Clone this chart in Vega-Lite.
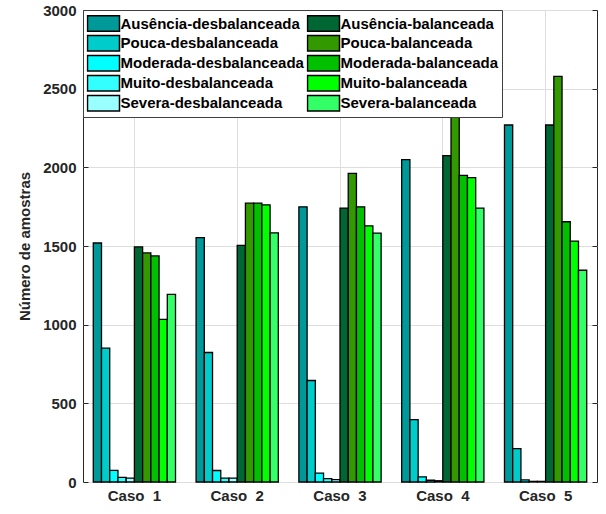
{
  "$schema": "https://vega.github.io/schema/vega-lite/v6.json",
  "autosize": "none",
  "width": 514,
  "height": 472,
  "padding": {"left": 83, "top": 10, "right": 9, "bottom": 32},
  "background": "white",
  "config": {
    "font": "Liberation Sans",
    "view": {"stroke": "#262626", "strokeWidth": 1}
  },
  "data": {
    "values": [
      {"caso": "Caso 1", "serie": "Ausência-desbalanceada", "valor": 1519},
      {"caso": "Caso 1", "serie": "Pouca-desbalanceada", "valor": 851},
      {"caso": "Caso 1", "serie": "Moderada-desbalanceada", "valor": 74},
      {"caso": "Caso 1", "serie": "Muito-desbalanceada", "valor": 30},
      {"caso": "Caso 1", "serie": "Severa-desbalanceada", "valor": 25},
      {"caso": "Caso 1", "serie": "Ausência-balanceada", "valor": 1494},
      {"caso": "Caso 1", "serie": "Pouca-balanceada", "valor": 1456},
      {"caso": "Caso 1", "serie": "Moderada-balanceada", "valor": 1437},
      {"caso": "Caso 1", "serie": "Muito-balanceada", "valor": 1034},
      {"caso": "Caso 1", "serie": "Severa-balanceada", "valor": 1192},
      {"caso": "Caso 2", "serie": "Ausência-desbalanceada", "valor": 1553},
      {"caso": "Caso 2", "serie": "Pouca-desbalanceada", "valor": 823},
      {"caso": "Caso 2", "serie": "Moderada-desbalanceada", "valor": 73},
      {"caso": "Caso 2", "serie": "Muito-desbalanceada", "valor": 25},
      {"caso": "Caso 2", "serie": "Severa-desbalanceada", "valor": 25},
      {"caso": "Caso 2", "serie": "Ausência-balanceada", "valor": 1504},
      {"caso": "Caso 2", "serie": "Pouca-balanceada", "valor": 1772},
      {"caso": "Caso 2", "serie": "Moderada-balanceada", "valor": 1772},
      {"caso": "Caso 2", "serie": "Muito-balanceada", "valor": 1762},
      {"caso": "Caso 2", "serie": "Severa-balanceada", "valor": 1584},
      {"caso": "Caso 3", "serie": "Ausência-desbalanceada", "valor": 1749},
      {"caso": "Caso 3", "serie": "Pouca-desbalanceada", "valor": 645},
      {"caso": "Caso 3", "serie": "Moderada-desbalanceada", "valor": 57},
      {"caso": "Caso 3", "serie": "Muito-desbalanceada", "valor": 21},
      {"caso": "Caso 3", "serie": "Severa-desbalanceada", "valor": 15},
      {"caso": "Caso 3", "serie": "Ausência-balanceada", "valor": 1741},
      {"caso": "Caso 3", "serie": "Pouca-balanceada", "valor": 1962},
      {"caso": "Caso 3", "serie": "Moderada-balanceada", "valor": 1749},
      {"caso": "Caso 3", "serie": "Muito-balanceada", "valor": 1628},
      {"caso": "Caso 3", "serie": "Severa-balanceada", "valor": 1582},
      {"caso": "Caso 4", "serie": "Ausência-desbalanceada", "valor": 2049},
      {"caso": "Caso 4", "serie": "Pouca-desbalanceada", "valor": 397},
      {"caso": "Caso 4", "serie": "Moderada-desbalanceada", "valor": 32},
      {"caso": "Caso 4", "serie": "Muito-desbalanceada", "valor": 11},
      {"caso": "Caso 4", "serie": "Severa-desbalanceada", "valor": 8},
      {"caso": "Caso 4", "serie": "Ausência-balanceada", "valor": 2074},
      {"caso": "Caso 4", "serie": "Pouca-balanceada", "valor": 2340},
      {"caso": "Caso 4", "serie": "Moderada-balanceada", "valor": 1949},
      {"caso": "Caso 4", "serie": "Muito-balanceada", "valor": 1934},
      {"caso": "Caso 4", "serie": "Severa-balanceada", "valor": 1741},
      {"caso": "Caso 5", "serie": "Ausência-desbalanceada", "valor": 2269},
      {"caso": "Caso 5", "serie": "Pouca-desbalanceada", "valor": 212},
      {"caso": "Caso 5", "serie": "Moderada-desbalanceada", "valor": 13},
      {"caso": "Caso 5", "serie": "Muito-desbalanceada", "valor": 4},
      {"caso": "Caso 5", "serie": "Severa-desbalanceada", "valor": 4},
      {"caso": "Caso 5", "serie": "Ausência-balanceada", "valor": 2269},
      {"caso": "Caso 5", "serie": "Pouca-balanceada", "valor": 2578},
      {"caso": "Caso 5", "serie": "Moderada-balanceada", "valor": 1654},
      {"caso": "Caso 5", "serie": "Muito-balanceada", "valor": 1531},
      {"caso": "Caso 5", "serie": "Severa-balanceada", "valor": 1346}
    ]
  },
  "encoding": {
    "x": {
      "field": "caso",
      "type": "nominal",
      "scale": {"paddingInner": 0.2, "paddingOuter": 0.1},
      "axis": {
        "title": null,
        "labelAngle": 0,
        "labelFontSize": 15,
        "labelFontWeight": "bold",
        "labelColor": "#262626",
        "labelPadding": 6,
        "labelExpr": "replace(datum.label, ' ', '\u00a0\u00a0')",
        "bandPosition": 0.5,
        "grid": true,
        "gridColor": "#dedede",
        "gridWidth": 1,
        "domain": false,
        "tickSize": 0
      }
    },
    "xOffset": {
      "field": "serie",
      "type": "nominal",
      "scale": {
        "domain": [
          "Ausência-desbalanceada", "Pouca-desbalanceada", "Moderada-desbalanceada", "Muito-desbalanceada", "Severa-desbalanceada",
          "Ausência-balanceada", "Pouca-balanceada", "Moderada-balanceada", "Muito-balanceada", "Severa-balanceada"
        ],
        "paddingInner": 0,
        "paddingOuter": 0
      }
    },
    "color": {
      "field": "serie",
      "type": "nominal",
      "scale": {
        "domain": [
          "Ausência-desbalanceada", "Pouca-desbalanceada", "Moderada-desbalanceada", "Muito-desbalanceada", "Severa-desbalanceada",
          "Ausência-balanceada", "Pouca-balanceada", "Moderada-balanceada", "Muito-balanceada", "Severa-balanceada"
        ],
        "range": [
          "#009999", "#00CCCC", "#00FFFF", "#33FFFF", "#99FFFF",
          "#006633", "#339900", "#00C000", "#00FF00", "#33FF66"
        ]
      },
      "legend": {
        "title": null,
        "orient": "top-left",
        "offset": 0,
        "columns": 2,
        "padding": 3.5,
        "rowPadding": 0,
        "clipHeight": 19.5,
        "columnPadding": 2,
        "fillColor": "white",
        "strokeColor": "#404040",
        "symbolType": "M-1,-0.484H1V0.484H-1Z",
        "symbolSize": 1024,
        "symbolStrokeColor": "black",
        "symbolStrokeWidth": 1.5,
        "symbolOpacity": 1,
        "labelFontSize": 15,
        "labelFontWeight": "bold",
        "labelColor": "black",
        "labelOffset": 0,
        "labelLimit": 300
      }
    }
  },
  "layer": [
    {
      "mark": {"type": "bar", "stroke": "black", "strokeWidth": 1.3},
      "encoding": {
        "y": {
          "field": "valor",
          "type": "quantitative",
          "scale": {"domain": [0, 3000], "nice": false},
          "axis": {
            "title": "Número de amostras",
            "titleFontSize": 15,
            "titleFontWeight": "bold",
            "titleColor": "#262626",
            "titlePadding": 10,
            "values": [0, 500, 1000, 1500, 2000, 2500, 3000],
            "format": "d",
            "labelFontSize": 15,
            "labelFontWeight": "bold",
            "labelColor": "#262626",
            "labelPadding": 12,
            "tickSize": -5,
            "tickColor": "#262626",
            "domain": false,
            "gridColor": "#dedede",
            "gridWidth": 1
          }
        }
      }
    },
    {
      "mark": {"type": "bar", "opacity": 0, "strokeOpacity": 0},
      "encoding": {
        "y": {
          "field": "valor",
          "type": "quantitative",
          "scale": {"domain": [0, 3000], "nice": false},
          "axis": {
            "orient": "right",
            "title": null,
            "labels": false,
            "grid": false,
            "domain": false,
            "values": [0, 500, 1000, 1500, 2000, 2500, 3000],
            "tickSize": -5,
            "tickColor": "#262626"
          }
        }
      }
    }
  ],
  "resolve": {"axis": {"y": "independent"}}
}
